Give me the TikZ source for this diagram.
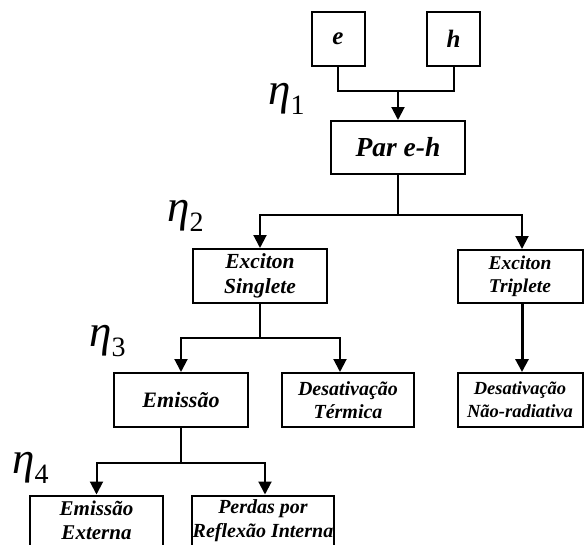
\documentclass[tikz,border=0pt]{standalone}
\usepackage{fontspec}
\setmainfont{Liberation Serif}
\usetikzlibrary{arrows.meta}
\newcommand{\bi}[2]{\bfseries\itshape\fontsize{#1}{#2}\selectfont}
\newcommand{\etafont}{\itshape\fontsize{45}{45}\selectfont}
\newcommand{\subfont}{\upshape\fontsize{28}{28}\selectfont}
\tikzset{
  box/.style={draw, line width=2pt, inner sep=0pt, align=center},
  conn/.style={line width=2pt},
  arr/.style={line width=2pt, -{Triangle[width=13pt,length=13pt]}},
  eta/.style={inner sep=0pt, anchor=base west, font=\etafont},
}
\begin{document}
\begin{tikzpicture}[x=1pt,y=-1pt]
\useasboundingbox (0,0) rectangle (584,544);
% nodes
\node[box, minimum width=53pt, minimum height=54pt, font=\bi{25}{28}] (e) at (338,39) {e};
\node[box, minimum width=53pt, minimum height=54pt, font=\bi{25}{28}] (h) at (453.5,39) {h};
\node[box, minimum width=134pt, minimum height=53pt, font=\bi{27.5}{30}] (par) at (398,147.5) {Par e-h};
\node[box, minimum width=134pt, minimum height=54pt, font=\bi{21.5}{25}] (sing) at (260,276) {Exciton\\Singlete};
\node[box, minimum width=125pt, minimum height=53pt, font=\bi{19.5}{23}] (trip) at (520,276.5) {Exciton\\Triplete};
\node[box, minimum width=134pt, minimum height=54pt, font=\bi{22}{26}] (emis) at (181,400) {Emissão};
\node[box, minimum width=132pt, minimum height=54pt, font=\bi{20}{23.5}] (term) at (348,400) {Desativação\\Térmica};
\node[box, minimum width=125pt, minimum height=54pt, font=\bi{18.5}{23}] (nrad) at (520,400) {Desativação\\Não-radiativa};
\node[box, minimum width=133pt, minimum height=50pt, font=\bi{21}{24}] (ext) at (96.5,520.5) {Emissão\\Externa};
\node[box, minimum width=142pt, minimum height=50pt, font=\bi{20}{24}] (perd) at (263,520.5) {Perdas por\\Reflexão Interna};
% efficiency labels
\node[eta] (eta1) at (268,104) {η\raisebox{-10pt}{\subfont 1}};
\node[eta] (eta2) at (167,221) {η\raisebox{-10pt}{\subfont 2}};
\node[eta] (eta3) at (89,346) {η\raisebox{-10pt}{\subfont 3}};
\node[eta] (eta4) at (12,473) {η\raisebox{-10pt}{\subfont 4}};
% junctions
\coordinate (j1) at (398,91);
\coordinate (j2) at (398,215);
\coordinate (j3) at (260,338);
\coordinate (j4) at (181,463);
% connectors
\draw[conn] (e.south) |- (j1) -| (h.south);
\draw[arr] (j1) -- (par.north);
\draw[conn] (par.south) -- (j2);
\draw[arr] (j2) -| (sing.north);
\draw[arr] (j2) -| ([xshift=2pt]trip.north);
\draw[conn] (sing.south) -- (j3);
\draw[arr] (j3) -| (emis.north);
\draw[arr] (j3) -| ([xshift=-8pt]term.north);
\draw[arr, line width=3pt] ([xshift=2pt]trip.south) -- ([xshift=2pt]nrad.north);
\draw[conn] (emis.south) -- (j4);
\draw[arr] (j4) -| (ext.north);
\draw[arr] (j4) -| ([xshift=2pt]perd.north);
\end{tikzpicture}
\end{document}
